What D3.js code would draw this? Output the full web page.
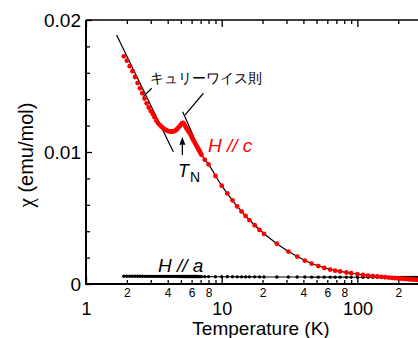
<!DOCTYPE html>
<html>
<head>
<meta charset="utf-8">
<script src="https://cdn.jsdelivr.net/npm/d3@7"></script>
<style>
  body { margin: 0; background: #fff; }
  svg { display: block; }
  text { font-family: "Liberation Sans", Arial, sans-serif; }
</style>
</head>
<body>
<div id="chart"></div>
<script>
// temperatures (K), shared by both field directions
var temps = [1.9, 2.0, 2.1, 2.2, 2.3, 2.4, 2.5, 2.6, 2.7, 2.8, 2.9, 3.0, 3.1, 3.2, 3.3, 3.4, 3.5, 3.6, 3.7, 3.8,
  3.9, 4.0, 4.1, 4.2, 4.3, 4.4, 4.5, 4.6, 4.7, 4.8, 4.9, 5.0, 5.1, 5.2, 5.3, 5.4, 5.5, 5.6, 5.7, 5.8,
  5.9, 6.0, 6.1, 6.2, 6.3, 6.4, 6.5, 6.6, 6.7, 6.8, 6.9, 7.0, 7.1,
  7.5, 8, 9, 10, 11, 12, 13, 14, 15, 16, 17.5, 19, 20.5,
  25.5, 31, 36, 41, 46, 51.5, 57, 63, 68.5, 74.5, 83, 90, 100, 110, 120, 130, 140, 150,
  160, 170, 180, 190, 200, 210, 220, 230, 240, 250, 260, 270, 280, 290, 300];

// chi for H // c (emu/mol)
var chiC = [0.01725, 0.01692, 0.01650, 0.01612, 0.01568, 0.01522, 0.01483, 0.01445, 0.01405, 0.01369,
  0.01337, 0.01310, 0.01287, 0.01264, 0.01237, 0.01218, 0.01204, 0.01192, 0.01181, 0.01172,
  0.01165, 0.01160, 0.01156, 0.01154, 0.01154, 0.01156, 0.01160, 0.01166, 0.01175, 0.01185,
  0.01196, 0.01208, 0.01218, 0.01220, 0.01210, 0.01194, 0.01180, 0.01168, 0.01155, 0.01143,
  0.01130, 0.01116, 0.01101, 0.01088, 0.01075, 0.01062, 0.01050, 0.01038, 0.01026, 0.01014,
  0.01002, 0.00990, 0.00978,
  0.00942, 0.00906, 0.00818, 0.00745, 0.00686, 0.00634, 0.00588, 0.00550, 0.00515, 0.00484,
  0.00445, 0.00410, 0.00380,
  0.00305, 0.00246, 0.00208, 0.00177, 0.00154, 0.00136, 0.00122, 0.00109, 0.00101, 0.00095,
  0.00087, 0.00082, 0.00075, 0.00069, 0.00064, 0.00060, 0.00057, 0.00054,
  0.00051, 0.00049, 0.00046, 0.00044, 0.00042, 0.00040, 0.00039, 0.00037, 0.00036, 0.00035,
  0.00034, 0.00033, 0.00032, 0.00031, 0.00030];

// chi for H // a (emu/mol)
var chiA = [0.00059, 0.00059, 0.00059, 0.00059, 0.00059, 0.00059, 0.00059, 0.00059, 0.00058, 0.00058,
  0.00058, 0.00058, 0.00058, 0.00058, 0.00058, 0.00058, 0.00058, 0.00058, 0.00058, 0.00058,
  0.00058, 0.00058, 0.00058, 0.00058, 0.00058, 0.00058, 0.00058, 0.00058, 0.00058, 0.00058,
  0.00057, 0.00057, 0.00057, 0.00057, 0.00057, 0.00057, 0.00057, 0.00057, 0.00057, 0.00057,
  0.00057, 0.00057, 0.00057, 0.00057, 0.00057, 0.00057, 0.00057, 0.00057, 0.00056, 0.00056,
  0.00056, 0.00056, 0.00056,
  0.00056, 0.00056, 0.00055, 0.00055, 0.00055, 0.00055, 0.00054, 0.00054, 0.00054, 0.00054,
  0.00054, 0.00054, 0.00053,
  0.00053, 0.00053, 0.00053, 0.00053, 0.00052, 0.00052, 0.00052, 0.00052, 0.00052, 0.00052,
  0.00052, 0.00051, 0.00051, 0.00051, 0.00051, 0.00051, 0.00051, 0.00051,
  0.00050, 0.00050, 0.00050, 0.00050, 0.00050, 0.00050, 0.00050, 0.00050, 0.00050, 0.00050,
  0.00050, 0.00050, 0.00050, 0.00050, 0.00050];

// Curie-Weiss lines
var cwLowT = [1.68, 4.40];
var cwLowChi = [0.01886, 0.01002];
var cwHighT = [5.16, 5.84, 7.12, 8, 10, 13, 17.5, 25.5, 36, 51.5, 74.5, 100, 150, 200, 300];
var cwHighChi = [0.01305, 0.01180, 0.00977, 0.00906, 0.00745, 0.00588, 0.00445, 0.00305, 0.00208,
  0.00136, 0.00095, 0.00075, 0.00054, 0.00042, 0.00030];

// axis ticks
var xMajor = [1, 10, 100];
var xMinor = [2, 3, 4, 5, 6, 7, 8, 9, 20, 30, 40, 50, 60, 70, 80, 90, 200, 300];
var xMinorLabels = [2, 4, 6, 8];
var yMajor = [0, 0.01, 0.02];
var yMinor = [0.002, 0.004, 0.006, 0.008, 0.012, 0.014, 0.016, 0.018];

var width = 418, height = 338;
var decade = 135.7;
var x = d3.scaleLog().domain([1, 300]).range([86, 86 + Math.log10(300) * decade]);
var y = d3.scaleLinear().domain([0, 0.02]).range([284, 20]);

var svg = d3.select("#chart").append("svg")
    .attr("width", width)
    .attr("height", height);

function minorFmt(d) {
    var m = Math.round(d / Math.pow(10, Math.floor(Math.log10(d) + 1e-9)));
    return xMinorLabels.indexOf(m) >= 0 ? m : "";
}

function styleAxis(g, size) {
    g.select(".domain").remove();
    g.selectAll("line").attr("stroke", "#000").attr("stroke-width", 1.3);
    g.selectAll("text").attr("fill", "#000")
        .attr("font-family", "'Liberation Sans', Arial, sans-serif")
        .attr("font-size", size);
}

// bottom axis
svg.append("g").attr("transform", "translate(0," + y(0) + ")")
    .call(d3.axisBottom(x).tickValues(xMinor).tickSize(-4).tickPadding(4).tickFormat(minorFmt))
    .call(styleAxis, 12);
svg.append("g").attr("transform", "translate(0," + y(0) + ")")
    .call(d3.axisBottom(x).tickValues(xMajor).tickSize(-7).tickPadding(18.5).tickFormat(d3.format("d")))
    .call(styleAxis, 18);

// top axis (ticks only)
svg.append("g").attr("transform", "translate(0," + y(0.02) + ")")
    .call(d3.axisTop(x).tickValues(xMinor).tickSize(-4).tickFormat(""))
    .call(styleAxis, 10);
svg.append("g").attr("transform", "translate(0," + y(0.02) + ")")
    .call(d3.axisTop(x).tickValues(xMajor).tickSize(-7).tickFormat(""))
    .call(styleAxis, 10);

// left axis
svg.append("g").attr("transform", "translate(" + x(1) + ",0)")
    .call(d3.axisLeft(y).tickValues(yMinor).tickSize(-4).tickFormat(""))
    .call(styleAxis, 10);
svg.append("g").attr("transform", "translate(" + x(1) + ",0)")
    .call(d3.axisLeft(y).tickValues(yMajor).tickSize(-6).tickPadding(5)
        .tickFormat(function(d) { return d === 0 ? "0" : d3.format(".2f")(d); }))
    .call(styleAxis, 19);

// frame
var frame = svg.append("g").attr("stroke", "#000").attr("fill", "none");
frame.append("path")
    .attr("stroke-width", 2)
    .attr("d", "M" + width + "," + y(0) + "H" + x(1) + "V" + y(0.02));
frame.append("path")
    .attr("stroke-width", 1.6)
    .attr("d", "M" + x(1) + "," + y(0.02) + "H" + width);

// Curie-Weiss lines
var cwLow = cwLowT.map(function(t, i) { return [t, cwLowChi[i]]; });
var cwHigh = cwHighT.map(function(t, i) { return [t, cwHighChi[i]]; });
var line = d3.line()
    .x(function(d) { return x(d[0]); })
    .y(function(d) { return y(d[1]); })
    .curve(d3.curveMonotoneX);

svg.append("path").datum(cwLow)
    .attr("fill", "none").attr("stroke", "#000").attr("stroke-width", 1.2)
    .attr("d", line);
svg.append("path").datum(cwHigh)
    .attr("fill", "none").attr("stroke", "#000").attr("stroke-width", 1.2)
    .attr("d", line);

// H // a data
var dataA = temps.map(function(t, i) { return [t, chiA[i]]; });
var dataC = temps.map(function(t, i) { return [t, chiC[i]]; });

svg.append("path").datum(dataA)
    .attr("fill", "none").attr("stroke", "#000").attr("stroke-width", 1.2)
    .attr("d", d3.line().x(function(d) { return x(d[0]); }).y(function(d) { return y(d[1]); }));
svg.selectAll(".pa").data(dataA).enter().append("circle")
    .attr("class", "pa")
    .attr("cx", function(d) { return x(d[0]); })
    .attr("cy", function(d) { return y(d[1]); })
    .attr("r", 1.7)
    .attr("fill", "#000");

// H // c data
svg.selectAll(".pc").data(dataC).enter().append("circle")
    .attr("class", "pc")
    .attr("cx", function(d) { return x(d[0]); })
    .attr("cy", function(d) { return y(d[1]); })
    .attr("r", 2.4)
    .attr("fill", "#ff0000");

// annotations
function seg(t1, c1, t2, c2) {
    svg.append("line")
        .attr("x1", x(t1)).attr("y1", y(c1))
        .attr("x2", x(t2)).attr("y2", y(c2))
        .attr("stroke", "#000").attr("stroke-width", 1.2);
}
seg(2.644, 0.01419, 3.05, 0.01483);
seg(5.36, 0.0128, 7.33, 0.01445);

svg.append("text")
    .attr("x", x(2.96)).attr("y", y(0.01519))
    .attr("font-family", "'Noto Sans CJK JP', sans-serif")
    .attr("font-size", 14)
    .text("キュリーワイス則");

// T_N arrow
var ax = x(5.13), tipY = y(0.01116), tailY = y(0.00977);
svg.append("line")
    .attr("x1", ax).attr("x2", ax).attr("y1", tipY + 5).attr("y2", tailY)
    .attr("stroke", "#000").attr("stroke-width", 1.3);
svg.append("path")
    .attr("d", "M" + ax + "," + tipY + "L" + (ax - 3) + "," + (tipY + 8) + "L" + (ax + 3) + "," + (tipY + 8) + "Z")
    .attr("fill", "#000");

var tn = svg.append("text")
    .attr("x", x(4.77)).attr("y", y(0.00811))
    .attr("font-size", 18);
tn.append("tspan").attr("font-style", "italic").text("T");
tn.append("tspan").attr("font-size", 14).attr("dy", 5).attr("dx", 1).text("N");

svg.append("text")
    .attr("x", x(7.93)).attr("y", y(0.0100))
    .attr("font-size", 19).attr("font-style", "italic")
    .attr("fill", "#ff0000")
    .text("H // c");

svg.append("text")
    .attr("x", x(3.39)).attr("y", y(0.00091))
    .attr("font-size", 19).attr("font-style", "italic")
    .attr("fill", "#000")
    .text("H // a");

// axis titles
svg.append("text")
    .attr("x", 261).attr("y", 334.5)
    .attr("text-anchor", "middle")
    .attr("font-size", 19)
    .text("Temperature (K)");

var yt = svg.append("text")
    .attr("transform", "translate(33,155) rotate(-90)")
    .attr("text-anchor", "middle")
    .attr("font-size", 20);
yt.append("tspan").attr("font-family", "'Liberation Serif', 'DejaVu Serif', serif").attr("font-size", 21).text("χ");
yt.append("tspan").text(" (emu/mol)");
</script>
</body>
</html>
